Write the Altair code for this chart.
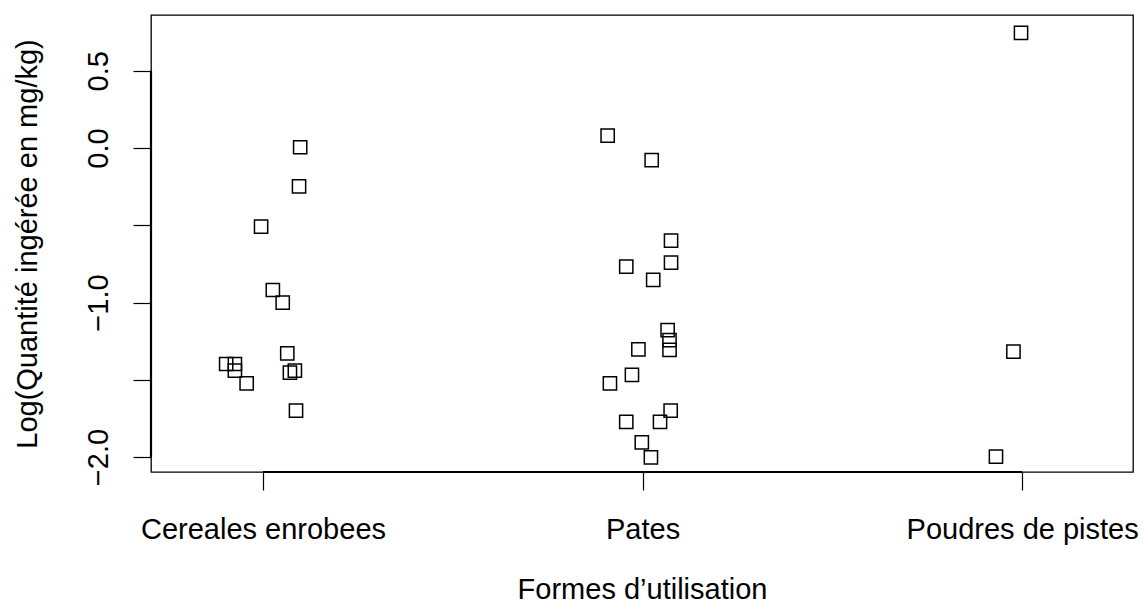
import altair as alt
import pandas as pd

# ---- data ----
categories = ["Cereales enrobees", "Pates", "Poudres de pistes"]
category_pos = [1, 2, 3]

cereales_x = [1.098, 1.095, 0.995, 1.026, 1.052, 1.064, 0.903, 0.926, 0.926, 0.957, 1.071, 1.084, 1.087]
cereales_y = [0.005, -0.248, -0.509, -0.919, -1.001, -1.329, -1.398, -1.398, -1.441, -1.523, -1.454, -1.441, -1.700]

pates_x = [1.908, 2.024, 2.075, 2.075, 1.957, 2.028, 2.066, 2.071, 2.071, 1.989, 1.972, 1.914, 2.074, 1.957, 2.046, 1.998, 2.022]
pates_y = [0.080, -0.078, -0.600, -0.742, -0.768, -0.854, -1.178, -1.243, -1.307, -1.303, -1.469, -1.523, -1.700, -1.772, -1.772, -1.905, -2.002]

poudres_x = [2.997, 2.977, 2.931]
poudres_y = [0.746, -1.318, -1.998]

y_ticks = [-2.0, -1.5, -1.0, -0.5, 0.0, 0.5]
y_hidden = [-1.5, -0.5]

x_title = "Formes d\u2019utilisation"
y_title = "Log(Quantit\u00e9 ing\u00e9r\u00e9e en mg/kg)"

# ---- build tables ----
rows = []
for cat, xs, ys in zip(categories, [cereales_x, pates_x, poudres_x], [cereales_y, pates_y, poudres_y]):
    for xv, yv in zip(xs, ys):
        rows.append({"cat": cat, "x": xv, "y": yv})
df = pd.DataFrame(rows)

xline = pd.DataFrame({"x": [min(category_pos)], "x2": [max(category_pos)]})
yline = pd.DataFrame({"y": [min(y_ticks)], "y2": [max(y_ticks)]})

W, H = 982, 457
FONT = "Liberation Sans"
FS = 29

x_label_expr = " : ".join(
    [f"datum.value == {p} ? '{c}'" for p, c in zip(category_pos[:-1], categories[:-1])]
    + [f"'{categories[-1]}'"]
)
y_label_expr = (
    " || ".join([f"datum.value == {v}" for v in y_hidden])
    + " ? '' : format(datum.value, '.1f')"
)

x_scale = alt.Scale(domain=[0.705, 3.292], nice=False, zero=False)
y_scale = alt.Scale(domain=[-2.097, 0.861], nice=False, zero=False)

x_axis = alt.Axis(
    values=category_pos,
    labelExpr=x_label_expr,
    title=x_title,
    labelBaseline="alphabetic",
    labelPadding=48,
    labelOverlap=False,
    labelFlush=False,
    labelBound=False,
    labelLimit=0,
    titleBaseline="alphabetic",
    titleY=126,
    titleX=W / 2,
    titleAlign="center",
    titleLimit=0,
)
y_axis = alt.Axis(
    values=y_ticks,
    labelExpr=y_label_expr,
    title=y_title,
    labelAngle=270,
    labelAlign="center",
    labelBaseline="alphabetic",
    labelPadding=26,
    labelOverlap=False,
    labelFlush=False,
    labelBound=False,
    labelLimit=0,
    titleAngle=270,
    titleAlign="center",
    titleBaseline="alphabetic",
    titleX=-115,
    titleY=H / 2,
    titleLimit=0,
)

points = alt.Chart(df).mark_point(
    shape="square", filled=False, color="black", size=175, strokeWidth=1.5, opacity=1
).encode(
    x=alt.X("x:Q", scale=x_scale, axis=x_axis),
    y=alt.Y("y:Q", scale=y_scale, axis=y_axis),
)

x_rule = alt.Chart(xline).mark_rule(color="black", strokeWidth=2.2).encode(
    x=alt.X("x:Q", scale=x_scale, axis=x_axis),
    x2="x2:Q",
    y=alt.value(H),
)
y_rule = alt.Chart(yline).mark_rule(color="black", strokeWidth=2.2).encode(
    y=alt.Y("y:Q", scale=y_scale, axis=y_axis),
    y2="y2:Q",
    x=alt.value(0),
)

chart = (
    alt.layer(points, x_rule, y_rule)
    .properties(
        width=W,
        height=H,
        autosize=alt.AutoSizeParams(type="none"),
        padding={"left": 151, "top": 15, "right": 11, "bottom": 140},
        background="white",
    )
    .configure_view(stroke="black", strokeWidth=1.3)
    .configure_axis(
        grid=False,
        domain=False,
        ticks=True,
        tickColor="black",
        tickSize=18,
        tickWidth=1.2,
        labelFont=FONT,
        labelFontSize=FS,
        labelColor="black",
        titleFont=FONT,
        titleFontSize=FS,
        titleFontWeight="normal",
        titleColor="black",
    )
)

chart.save("out.html", embed_options={"renderer": "svg", "actions": False})
